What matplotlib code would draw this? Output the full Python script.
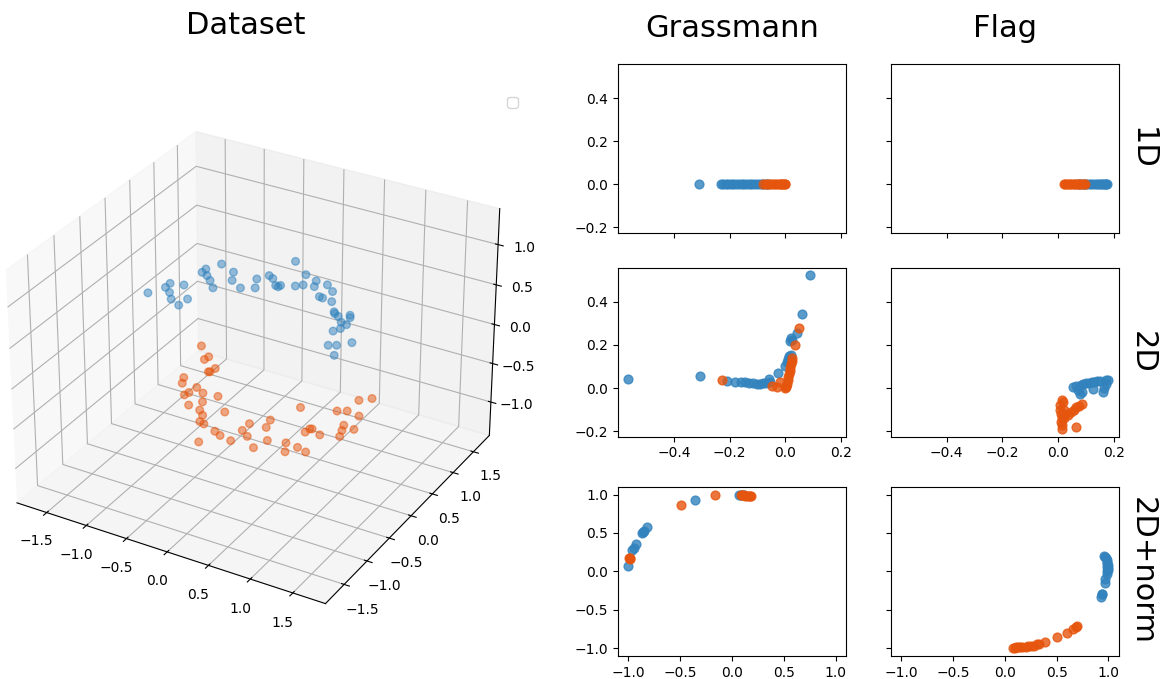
import matplotlib
matplotlib.use("Agg")
import matplotlib.pyplot as plt
import numpy as np
import warnings
warnings.filterwarnings("ignore")

BLUE = "#3182bd"
ORANGE = "#e6550d"

# ---------------- 3D dataset ----------------
blue3d_x = [-0.544, -0.450, -0.454, -0.358, -0.270, -0.138, -0.313, -0.127, -0.292, -0.295,
            -0.213, -0.131, -0.025, -0.210, 0.064, -0.014, 0.220, 0.349, 0.268, 0.342,
            0.406, 0.505, 0.548, 0.541, 0.425, 0.685, 0.743, 0.660, 0.859, 0.817,
            1.007, 1.049, 0.957, 1.166, 1.071, 1.289, 1.312, 1.370, 1.453, 1.523,
            1.462, 1.486, 1.508, 1.469, 1.564, 1.636, 1.742, 1.711]
blue3d_y = [-1.304, -1.114, -1.016, -1.185, -1.298, -1.369, -0.974, -1.213, -0.644, -0.562,
            -0.679, -0.755, -0.877, -0.386, -0.639, -0.477, -0.738, -0.660, -0.484, -0.356,
            -0.393, -0.509, -0.483, -0.521, 0.054, -0.417, -0.357, -0.148, -0.330, -0.213,
            -0.492, -0.501, -0.229, -0.522, -0.329, -0.698, -0.727, -0.759, -0.851, -0.869,
            -0.679, -0.723, -0.969, -1.051, -1.328, -1.286, -1.163, -1.474]
blue3d_z = [1.26] * len(blue3d_x)

orange3d_x = [-1.136, -0.954, -0.943, -0.778, -0.763, -0.750, -0.947, -0.898, -0.715, -0.733,
              -0.749, -0.596, -0.420, -0.599, -0.505, -0.443, -0.361, -0.321, -0.258, -0.119,
              -0.191, -0.082, 0.009, 0.159, 0.160, 0.157, 0.266, 0.436, 0.349, 0.312,
              0.490, 0.683, 0.762, 0.832, 0.950, 0.463, 0.752, 0.762, 0.784, 0.912,
              0.837, 1.109, 1.072, 1.038, 0.930, 1.171, 0.933, 1.089, 1.037]
orange3d_y = [0.732, 0.490, 0.564, 0.278, 0.287, 0.378, 0.035, -0.078, -0.077, -0.213,
              -0.281, -0.147, -0.125, -0.442, -0.310, -0.473, -0.550, -0.676, -0.697, -1.039,
              -0.372, -0.767, -0.813, -0.848, -0.606, -0.448, -0.684, -0.849, -0.425, -0.271,
              -0.650, -0.593, -0.754, -0.611, -0.649, 0.119, -0.301, -0.219, -0.207, -0.272,
              0.252, -0.195, -0.075, 0.029, 0.307, 0.008, 0.568, 0.277, 0.673]
orange3d_z = [-0.57] * len(orange3d_x)

# ---------------- Grassmann / Flag embeddings ----------------
# 1D
gr1_blue_x = [-0.309, -0.232, -0.225, -0.214, -0.205, -0.196, -0.188, -0.176, -0.168, -0.157,
              -0.149, -0.138, -0.127, -0.119, -0.108, -0.097, -0.088, -0.079, -0.068, -0.061]
gr1_orange_x = [-0.079, -0.071, -0.062, -0.055, -0.047, -0.041, -0.034, -0.028, -0.021, -0.016,
                -0.011, -0.007, -0.003, -0.001]
fl1_blue_x = [0.071, 0.079, 0.088, 0.097, 0.105, 0.114, 0.122, 0.131, 0.139, 0.146, 0.153,
              0.158, 0.163, 0.168, 0.172, 0.176]
fl1_orange_x = [0.021, 0.026, 0.032, 0.038, 0.044, 0.050, 0.056, 0.061, 0.067, 0.073, 0.079,
                0.085, 0.091, 0.095]

# 2D
gr2_blue_x = [-0.563, -0.305, -0.209, -0.180, -0.160, -0.145, -0.130, -0.115, -0.100, -0.090,
              -0.080, -0.070, -0.060, -0.055, -0.028, 0.000, 0.006, 0.010, 0.012, 0.020,
              0.015, 0.020, 0.025, 0.040, 0.060, 0.090]
gr2_blue_y = [0.040, 0.054, 0.033, 0.030, 0.028, 0.026, 0.024, 0.022, 0.020, 0.020,
              0.022, 0.025, 0.044, 0.030, 0.070, 0.100, 0.120, 0.135, 0.150, 0.155,
              0.220, 0.230, 0.225, 0.255, 0.346, 0.524]
gr2_orange_x = [-0.227, -0.048, -0.030, -0.018, 0.000, 0.002, 0.005, 0.008, 0.010, 0.012,
                0.015, 0.018, 0.020, 0.022, 0.024, 0.003, 0.035, 0.048]
gr2_orange_y = [0.039, 0.009, 0.005, 0.028, 0.000, 0.010, 0.020, 0.035, 0.050, 0.065,
                0.080, 0.095, 0.110, 0.125, 0.140, 0.005, 0.200, 0.279]
fl2_blue_x = [0.052, 0.065, 0.078, 0.080, 0.090, 0.100, 0.110, 0.120, 0.126, 0.130,
              0.140, 0.150, 0.162, 0.165, 0.170, 0.180, 0.170, 0.070, 0.085]
fl2_blue_y = [0.005, 0.010, -0.026, 0.015, 0.020, 0.022, 0.025, 0.027, -0.005, 0.030,
              0.032, 0.033, -0.019, 0.000, 0.035, 0.036, 0.020, -0.010, -0.020]
fl2_orange_x = [0.006, 0.008, 0.010, 0.012, 0.012, 0.015, 0.010, 0.018, 0.020, 0.025,
                0.036, 0.045, 0.055, 0.065, 0.075, 0.084, 0.064, 0.020, 0.015]
fl2_orange_y = [-0.080, -0.100, -0.120, -0.140, -0.190, -0.170, -0.160, -0.065, -0.100, -0.120,
                -0.127, -0.110, -0.100, -0.090, -0.082, -0.075, -0.180, -0.140, -0.055]

# 2D + norm
gn_blue_x = [-1.000, -0.965, -0.950, -0.930, -0.870, -0.860, -0.850, -0.820, -0.360, 0.066,
             0.090, 0.100, 0.120]
gn_blue_y = [0.070, 0.280, 0.300, 0.350, 0.500, 0.510, 0.530, 0.580, 0.930, 1.000,
             0.995, 0.995, 0.993]
gn_orange_x = [-0.990, -0.980, -0.985, -0.490, -0.160, 0.090, 0.100, 0.120, 0.130, 0.150,
               0.160, 0.170, 0.180]
gn_orange_y = [0.180, 0.170, 0.165, 0.870, 0.990, 0.995, 0.990, 0.990, 0.985, 0.985,
               0.980, 0.980, 0.985]
fn_blue_x = [0.960, 0.970, 0.980, 0.985, 0.990, 0.990, 0.995, 0.990, 1.000, 0.995,
             0.990, 0.985, 0.970, 0.968, 0.940, 0.935, 0.925]
fn_blue_y = [0.200, 0.190, 0.170, 0.150, 0.120, 0.100, 0.080, 0.060, 0.040, 0.020,
             0.000, -0.030, -0.100, -0.150, -0.290, -0.300, -0.330]
fn_orange_x = [0.080, 0.100, 0.110, 0.130, 0.150, 0.170, 0.200, 0.220, 0.250, 0.280,
               0.310, 0.330, 0.390, 0.500, 0.600, 0.660, 0.690, 0.700]
fn_orange_y = [-1.000, -0.995, -0.990, -0.990, -0.988, -0.985, -0.980, -0.975, -0.970, -0.965,
               -0.950, -0.940, -0.915, -0.860, -0.800, -0.750, -0.720, -0.710]

col_titles = ["Grassmann", "Flag"]
row_labels = ["1D", "2D", "2D+norm"]

# ---------------- figure ----------------
fig = plt.figure(figsize=(11.66, 6.79), dpi=100)

ax3 = fig.add_axes([-0.021, 0.0514, 0.471, 0.826], projection="3d")
ax3.scatter(blue3d_x, blue3d_y, blue3d_z, color=BLUE, alpha=0.5, s=30)
ax3.scatter(orange3d_x, orange3d_y, orange3d_z, color=ORANGE, alpha=0.5, s=30)
ax3.set_xlim(-1.88, 1.88)
ax3.set_ylim(-1.9, 1.9)
ax3.set_zlim(-1.44, 1.44)
ax3.set_xticks([-1.5, -1.0, -0.5, 0.0, 0.5, 1.0, 1.5])
ax3.set_yticks([-1.5, -1.0, -0.5, 0.0, 0.5, 1.0, 1.5])
ax3.set_zticks([-1.0, -0.5, 0.0, 0.5, 1.0])
ax3.legend(loc="upper right", bbox_to_anchor=(0.4443, 0.8576),
           bbox_transform=fig.transFigure, borderaxespad=0)
fig.text(0.211, 0.963, "Dataset", ha="center", va="center", fontsize=22)

L1, L2, W = 0.530, 0.764, 0.1955
H = 0.249
bottoms = [0.657, 0.357, 0.034]

axes = {}
axA = fig.add_axes([L1, bottoms[0], W, H])
axes[(0, 0)] = axA
axes[(0, 1)] = fig.add_axes([L2, bottoms[0], W, H], sharex=axA, sharey=axA)
axes[(1, 0)] = fig.add_axes([L1, bottoms[1], W, H], sharex=axA, sharey=axA)
axes[(1, 1)] = fig.add_axes([L2, bottoms[1], W, H], sharex=axA, sharey=axA)
axB = fig.add_axes([L1, bottoms[2], W, H])
axes[(2, 0)] = axB
axes[(2, 1)] = fig.add_axes([L2, bottoms[2], W, H], sharex=axB, sharey=axB)

kw = dict(alpha=0.8, s=40)
panels = {
    (0, 0): (gr1_blue_x, [0.0] * len(gr1_blue_x), gr1_orange_x, [0.0] * len(gr1_orange_x)),
    (0, 1): (fl1_blue_x, [0.0] * len(fl1_blue_x), fl1_orange_x, [0.0] * len(fl1_orange_x)),
    (1, 0): (gr2_blue_x, gr2_blue_y, gr2_orange_x, gr2_orange_y),
    (1, 1): (fl2_blue_x, fl2_blue_y, fl2_orange_x, fl2_orange_y),
    (2, 0): (gn_blue_x, gn_blue_y, gn_orange_x, gn_orange_y),
    (2, 1): (fn_blue_x, fn_blue_y, fn_orange_x, fn_orange_y),
}
for key, (bx, by, ox, oy) in panels.items():
    ax = axes[key]
    ax.scatter(bx, by, color=BLUE, **kw)
    ax.scatter(ox, oy, color=ORANGE, **kw)

for r in range(3):
    axes[(r, 1)].tick_params(labelleft=False)
axes[(0, 0)].tick_params(labelbottom=False)
axes[(0, 1)].tick_params(labelbottom=False)
axes[(0, 0)].set_yticks([-0.2, 0.0, 0.2, 0.4])
axes[(1, 0)].set_xticks([-0.4, -0.2, 0.0, 0.2])
axB.set_xticks([-1.0, -0.5, 0.0, 0.5, 1.0])
axB.set_yticks([-1.0, -0.5, 0.0, 0.5, 1.0])

for c, t in enumerate(col_titles):
    ax = axes[(0, c)]
    pos = ax.get_position()
    fig.text((pos.x0 + pos.x1) / 2, 0.958, t, ha="center", va="center", fontsize=22)
for r, t in enumerate(row_labels):
    pos = axes[(r, 1)].get_position()
    fig.text(0.980, (pos.y0 + pos.y1) / 2, t, ha="center", va="center",
             rotation=270, fontsize=22)

fig.savefig("out.png", dpi=100)
